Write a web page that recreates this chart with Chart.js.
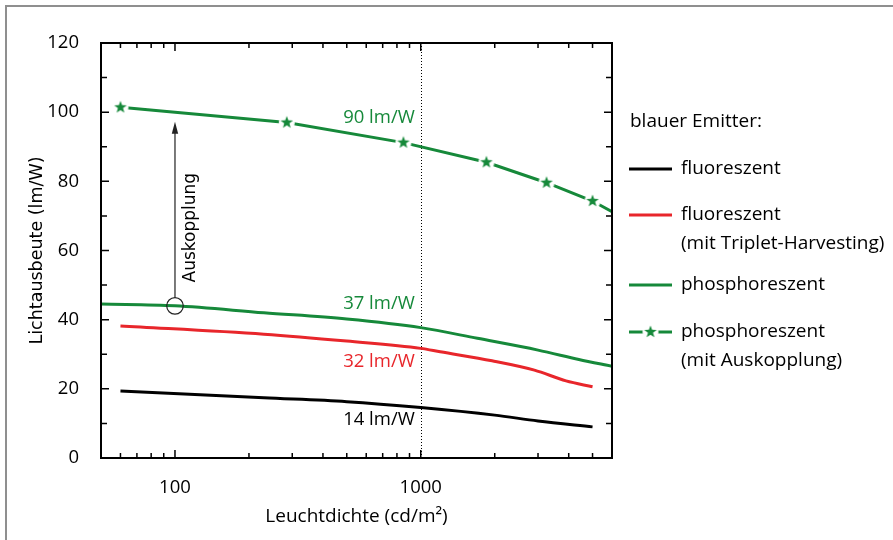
<!DOCTYPE html>
<html>
<head>
<meta charset="utf-8">
<script src="https://cdn.jsdelivr.net/npm/chart.js@4.4.1/dist/chart.umd.min.js"></script>
<style>
  html, body { margin: 0; padding: 0; background: #fff; overflow: hidden; }
  #wrap { position: relative; width: 893px; height: 540px; }
  #frame { position: absolute; left: 5px; top: 5px; width: 900px; height: 600px; border: 2px solid #8f8f8f; box-sizing: border-box; }
  canvas { position: absolute; left: 0; top: 0; }
</style>
</head>
<body>
<div id="wrap">
  <div id="frame"></div>
  <canvas id="chart" width="893" height="540"></canvas>
</div>
<script>
// Leuchtdichte (cd/m2) -> Lichtausbeute (lm/W)
const fluorX = [60, 230, 500, 1000, 2000, 3000, 5000];
const fluorY = [19.4, 17.4, 16.3, 14.6, 12.4, 10.7, 9.0];
const tripletX = [60, 230, 500, 1000, 1200, 1950, 2900, 3900, 5000];
const tripletY = [38.2, 35.8, 33.8, 31.7, 30.7, 28.1, 25.4, 22.3, 20.6];
const phosX = [50, 100, 230, 500, 1000, 1700, 3000, 4400, 6000];
const phosY = [44.5, 44.0, 42.0, 40.2, 37.7, 34.6, 31.2, 28.5, 26.5];
const outX = [60, 285, 850, 1850, 3250, 5000, 6000];
const outY = [101.4, 97.0, 91.2, 85.5, 79.6, 74.3, 71.2];

const xTickValues = [60, 70, 80, 90, 100, 200, 300, 400, 500, 600, 700, 800, 900, 1000, 2000, 3000, 4000, 5000];
const xTickLabels = [100, 1000];
const yTickValues = [0, 10, 20, 30, 40, 50, 60, 70, 80, 90, 100, 110, 120];
const yTickLabels = [0, 20, 40, 60, 80, 100, 120];

const seriesNames = ['fluoreszent', 'fluoreszent (mit Triplet-Harvesting)', 'phosphoreszent', 'phosphoreszent (mit Auskopplung)'];
const valueLabels = ['14 lm/W', '32 lm/W', '37 lm/W', '90 lm/W'];

const GREEN = '#16893a';
const RED = '#e8262b';
const SANS = '"Open Sans", sans-serif';
const WIDE = '"DejaVu Sans", sans-serif';

function toPoints(xs, ys) {
  return xs.map((x, i) => ({ x: x, y: ys[i] }));
}

function makeStar(color) {
  const c = document.createElement('canvas');
  c.width = 20; c.height = 20;
  const g = c.getContext('2d');
  g.fillStyle = '#fff';
  g.beginPath(); g.arc(10, 10, 8, 0, Math.PI * 2); g.fill();
  g.fillStyle = color;
  g.beginPath();
  for (let i = 0; i < 10; i++) {
    const r = i % 2 ? 2.7 : 6.6;
    const a = -Math.PI / 2 + i * Math.PI / 5;
    g.lineTo(10 + r * Math.cos(a), 10 + r * Math.sin(a));
  }
  g.closePath(); g.fill();
  return c;
}
const star = makeStar(GREEN);

const decorations = {
  id: 'decorations',
  beforeDatasetsDraw(chart) {
    const { ctx, chartArea: a, scales: { x } } = chart;
    const px = Math.round(x.getPixelForValue(1000)) + 0.5;
    ctx.save();
    ctx.strokeStyle = '#000';
    ctx.lineWidth = 1;
    ctx.setLineDash([1, 2]);
    ctx.beginPath(); ctx.moveTo(px, a.top); ctx.lineTo(px, a.bottom); ctx.stroke();
    ctx.restore();
  },
  afterDatasetsDraw(chart) {
    const { ctx, chartArea: a, scales: { x, y } } = chart;
    ctx.save();

    // frame + inward ticks
    ctx.strokeStyle = '#000';
    ctx.lineWidth = 2;
    ctx.strokeRect(a.left, a.top, a.right - a.left, a.bottom - a.top);
    ctx.lineWidth = 1.5;
    ctx.beginPath();
    xTickValues.forEach((v) => {
      const p = x.getPixelForValue(v);
      const len = xTickLabels.includes(v) ? 8 : 5;
      ctx.moveTo(p, a.bottom); ctx.lineTo(p, a.bottom - len);
      ctx.moveTo(p, a.top); ctx.lineTo(p, a.top + len);
    });
    yTickValues.forEach((v) => {
      const p = y.getPixelForValue(v);
      const len = yTickLabels.includes(v) ? 8 : 6;
      ctx.moveTo(a.left, p); ctx.lineTo(a.left + len, p);
      ctx.moveTo(a.right, p); ctx.lineTo(a.right - len, p);
    });
    ctx.stroke();

    // values at 1000 cd/m2
    const lx = x.getPixelForValue(1000) - 6;
    ctx.font = '18.5px ' + SANS;
    ctx.textAlign = 'right';
    ctx.textBaseline = 'middle';
    [[valueLabels[3], 98.3, GREEN], [valueLabels[2], 44.6, GREEN], [valueLabels[1], 27.8, RED], [valueLabels[0], 11.0, '#000']]
      .forEach(([t, v, c]) => { ctx.fillStyle = c; ctx.fillText(t, lx, y.getPixelForValue(v)); });

    // Auskopplung arrow
    const ax = x.getPixelForValue(100);
    const cy = y.getPixelForValue(44.0);
    const tip = y.getPixelForValue(97.2);
    ctx.strokeStyle = '#222';
    ctx.lineWidth = 1.2;
    ctx.beginPath(); ctx.arc(ax, cy, 8.3, 0, Math.PI * 2); ctx.stroke();
    ctx.beginPath(); ctx.moveTo(ax, cy - 8.3); ctx.lineTo(ax, tip + 8); ctx.stroke();
    ctx.fillStyle = '#222';
    ctx.beginPath(); ctx.moveTo(ax, tip); ctx.lineTo(ax - 3.2, tip + 12); ctx.lineTo(ax + 3.2, tip + 12); ctx.closePath(); ctx.fill();
    ctx.save();
    ctx.translate(ax + 16, y.getPixelForValue(66.6));
    ctx.rotate(-Math.PI / 2);
    ctx.font = '17px ' + WIDE;
    ctx.textAlign = 'center';
    ctx.fillStyle = '#000';
    ctx.fillText('Auskopplung', 0, 0);
    ctx.restore();

    // axis titles
    ctx.fillStyle = '#000';
    ctx.font = '19px ' + SANS;
    ctx.textAlign = 'center';
    ctx.fillText('Leuchtdichte (cd/m²)', (a.left + a.right) / 2, 517);
    ctx.save();
    ctx.translate(37, (a.top + a.bottom) / 2);
    ctx.rotate(-Math.PI / 2);
    ctx.font = '17.5px ' + WIDE;
    ctx.fillText('Lichtausbeute (lm/W)', 0, 0);
    ctx.restore();

    // legend
    const lx0 = 629, lx1 = 672, tx = 681;
    ctx.textAlign = 'left';
    ctx.font = '19px ' + SANS;
    ctx.fillText('blauer Emitter:', 630, 122);
    const rows = [169, 215, 285, 332];
    chart.data.datasets.forEach((ds, i) => {
      const ry = rows[i];
      ctx.strokeStyle = ds.borderColor;
      ctx.lineWidth = 3;
      ctx.beginPath(); ctx.moveTo(lx0, ry); ctx.lineTo(lx1, ry); ctx.stroke();
      if (ds.pointStyle === star) ctx.drawImage(star, (lx0 + lx1) / 2 - 10, ry - 10);
      ctx.fillStyle = '#000';
      const parts = ds.label.split(' (');
      ctx.fillText(parts[0], tx, ry);
      if (parts[1]) ctx.fillText('(' + parts[1], tx, ry + 29);
    });
    ctx.restore();
  }
};

new Chart(document.getElementById('chart'), {
  type: 'line',
  data: {
    datasets: [
      { label: seriesNames[0], data: toPoints(fluorX, fluorY), borderColor: '#000', borderWidth: 3, pointRadius: 0, cubicInterpolationMode: 'monotone' },
      { label: seriesNames[1], data: toPoints(tripletX, tripletY), borderColor: RED, borderWidth: 3, pointRadius: 0, cubicInterpolationMode: 'monotone' },
      { label: seriesNames[2], data: toPoints(phosX, phosY), borderColor: GREEN, borderWidth: 3, pointRadius: 0, cubicInterpolationMode: 'monotone' },
      { label: seriesNames[3], data: toPoints(outX, outY), borderColor: GREEN, borderWidth: 3, tension: 0,
        pointStyle: star, pointRadius: outX.map((v, i) => (i === outX.length - 1 ? 0 : 6)) }
    ]
  },
  options: {
    responsive: false,
    animation: false,
    layout: { padding: { left: 0, right: 281, top: 43, bottom: 0 } },
    plugins: { legend: { display: false }, tooltip: { enabled: false } },
    scales: {
      x: {
        type: 'logarithmic',
        min: 50,
        max: 6000,
        afterBuildTicks: (s) => { s.ticks = xTickValues.map((v) => ({ value: v })); },
        afterFit: (s) => { s.height = 82; },
        grid: { display: false },
        border: { display: false },
        ticks: {
          autoSkip: false, maxRotation: 0, padding: 11, color: '#000',
          font: { family: 'Open Sans', size: 18.5 },
          callback: (v) => (xTickLabels.includes(v) ? String(v) : '')
        }
      },
      y: {
        min: 0,
        max: 120,
        afterBuildTicks: (s) => { s.ticks = yTickValues.map((v) => ({ value: v })); },
        afterFit: (s) => { s.width = 101; },
        grid: { display: false },
        border: { display: false },
        ticks: {
          padding: 14, color: '#000',
          font: { family: 'Open Sans', size: 18.5 },
          callback: (v) => (yTickLabels.includes(v) ? String(v) : '')
        }
      }
    }
  },
  plugins: [decorations]
});
</script>
</body>
</html>
